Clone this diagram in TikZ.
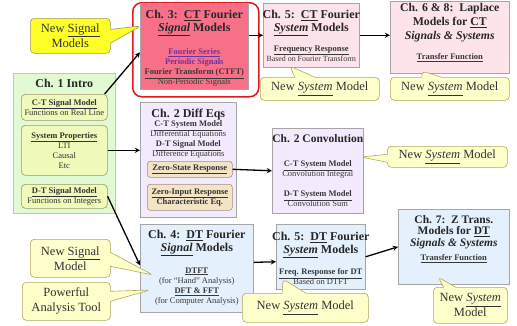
\documentclass[tikz,border=0pt]{standalone}
\usepackage{fontspec}
\setmainfont{Liberation Serif}
\usetikzlibrary{positioning, shapes.callouts}
\definecolor{ctred}{RGB}{248,112,136}
\definecolor{ringred}{RGB}{228,24,24}
\definecolor{ctpink}{RGB}{253,228,234}
\definecolor{introgreen}{RGB}{226,250,212}
\definecolor{propgreen}{RGB}{240,250,186}
\definecolor{diffviolet}{RGB}{243,234,253}
\definecolor{zerotan}{RGB}{242,228,196}
\definecolor{dtblue}{RGB}{228,240,252}
\definecolor{notepale}{RGB}{255,255,204}
\definecolor{noteyellow}{RGB}{255,255,40}
\definecolor{fspurple}{RGB}{112,48,160}
\tikzset{
    >=stealth,
    box/.style={anchor=north west, inner sep=0pt, line width=0.6pt, draw=black!35},
    ctbox/.style={box, fill=ctpink},
    dtbox/.style={box, fill=dtblue},
    diffbox/.style={box, fill=diffviolet},
    inbox/.style={box, rounded corners=4pt, fill=propgreen, draw=black!40!yellow!60!gray,
        align=center, font=\fontsize{8.5}{10}\selectfont, text=black!80},
    zerobox/.style={inbox, rounded corners=3pt, fill=zerotan, draw=black!45!brown!60},
    ttl/.style={font=\bfseries\fontsize{12}{13}\selectfont, align=center, inner sep=0pt, text=black!85},
    sub/.style={font=\fontsize{8.5}{10}\selectfont, align=center, inner sep=0pt, text=black!78},
    bubble/.style={rectangle callout, anchor=north west, rounded corners=4pt, fill=notepale,
        draw=black!30!yellow!70!gray, line width=0.6pt, align=center, inner sep=0pt,
        callout pointer width=14pt, font=\fontsize{12.5}{15}\selectfont, text=black!80},
    arr/.style={->, line width=1.3pt}
}

\begin{document}
\begin{tikzpicture}[x=1pt, y=-1pt]
    \useasboundingbox (0,0) rectangle (517,325);
    % chapter boxes
    \node[box, rounded corners=9pt, draw=ringred, line width=1.5pt,
        minimum width=126pt, minimum height=94pt] (ring) at (132,2) {};
    \node[box, fill=ctred, minimum width=108pt, minimum height=86pt] (ch3) at (140,3) {};
    \node[ctbox, minimum width=96pt, minimum height=64pt] (ch5c) at (263,3) {};
    \node[ctbox, minimum width=119pt, minimum height=72pt] (ch68) at (390,1) {};
    \node[box, fill=introgreen, draw=black!30!green!40, minimum width=102pt, minimum height=140pt] (ch1) at (13,73) {};
    \node[inbox, minimum width=86pt, minimum height=26pt] (ctsig) at (21,94)
        {\textbf{\underline{C-T Signal Model}}\\Functions on Real Line};
    \node[inbox, minimum width=86pt, minimum height=50pt] (props) at (21,125)
        {\textbf{\underline{System Properties}}\\LTI\\Causal\\Etc};
    \node[inbox, minimum width=86pt, minimum height=24pt] (dtsig) at (21,184)
        {\textbf{\underline{D-T Signal Model}}\\Functions on Integers};
    \node[diffbox, minimum width=96pt, minimum height=115pt] (ch2d) at (140,102) {};
    \node[zerobox, minimum width=85pt, minimum height=16pt] (zsr) at (147,161)
        {\textbf{\underline{Zero-State Response}}};
    \node[zerobox, minimum width=85pt, minimum height=26pt] (zir) at (147,184)
        {\textbf{\underline{Zero-Input Response}}\\\textbf{Characteristic Eq.}};
    \node[diffbox, minimum width=91pt, minimum height=85pt] (ch2c) at (272,128) {};
    \node[dtbox, minimum width=113pt, minimum height=88pt] (ch4) at (140,224) {};
    \node[dtbox, minimum width=89pt, minimum height=65pt] (ch5d) at (276,224) {};
    \node[dtbox, minimum width=111pt, minimum height=75pt] (ch7) at (398,209) {};

    % box texts
    \node[ttl, below=7pt of ch3.north] (ch3t) {Ch. 3:\ \ \underline{CT} Fourier\\\underline{\textit{Signal}} Models};
    \node[sub, below=45.5pt of ch3.north] (ch3s) {\textcolor{fspurple}{\textbf{\underline{Fourier Series}}}\\
        \textcolor{fspurple}{\textbf{Periodic Signals}}\\\textbf{\underline{Fourier Transform (CTFT)}}\\Non-Periodic Signals};
    \node[ttl, below=7pt of ch5c.north] (ch5ct) {Ch. 5:\ \ \underline{CT} Fourier\\\underline{\textit{System}} Models};
    \node[sub, below=42.5pt of ch5c.north] (ch5cs) {\textbf{\underline{Frequency Response}}\\
        {\fontsize{7.9}{10}\selectfont Based on Fourier Transform}};
    \node[ttl, below=2pt of ch68.north, font=\bfseries\fontsize{11.8}{14}\selectfont] (ch68t)
        {Ch. 6 \& 8:\ \ Laplace\\Models for \underline{CT}\\\textit{Signals \& Systems}};
    \node[sub, below=52.5pt of ch68.north] (ch68s) {\textbf{\underline{Transfer Function}}};
    \node[ttl, below=6pt of ch1.north] (ch1t) {Ch. 1 Intro};
    \node[ttl, below=7pt of ch2d.north] (ch2dt) {Ch. 2 Diff Eqs};
    \node[sub, below=18.5pt of ch2d.north] (ch2ds) {\textbf{\underline{C-T System Model}}\\Differential Equations\\
        \textbf{\underline{D-T Signal Model}}\\Difference Equations};
    \node[ttl, below=6pt of ch2c.north, font=\bfseries\fontsize{11.5}{13}\selectfont] (ch2ct) {Ch. 2 Convolution};
    \node[sub, below=32.5pt of ch2c.north] (ch2cs) {\textbf{\underline{C-T System Model}}\\Convolution Integral\\[10pt]
        \textbf{\underline{D-T System Model}}\\Convolution Sum};
    \node[ttl, below=6pt of ch4.north] (ch4t) {Ch. 4:\ \ \underline{DT} Fourier\\\underline{\textit{Signal}} Models};
    \node[sub, below=43.5pt of ch4.north] (ch4s) {\textbf{\underline{DTFT}}\\(for “Hand” Analysis)\\
        \textbf{\underline{DFT \& FFT}}\\(for Computer Analysis)};
    \node[ttl, below=8pt of ch5d.north] (ch5dt) {Ch. 5:\ \ \underline{DT} Fourier\\\underline{\textit{System}} Models};
    \node[sub, below=44.5pt of ch5d.north] (ch5ds) {\textbf{\underline{Freq. Response for DT}}\\Based on DTFT};
    \node[ttl, below=6pt of ch7.north, font=\bfseries\fontsize{11.5}{11.7}\selectfont] (ch7t)
        {Ch. 7:\ \ Z Trans.\\Models for \underline{DT}\\\textit{Signals \& Systems}};
    \node[sub, below=45.5pt of ch7.north] (ch7s) {\textbf{\underline{Transfer Function}}};

    % arrows
    \draw[arr] ([xshift=-3pt]ctsig.north east) -- ([yshift=-6pt]ch3.west);
    \draw[arr] (ch3.east |- ch5c.west) -- (ch5c.west);
    \draw[arr] (ch5c.east) -- (ch68.west |- ch5c.east);
    \draw[arr] (props.east) -- (ch2d.west |- props.east);
    \draw[arr] (zsr.east) -- (ch2c.west);
    \draw[arr] (dtsig.east) -- ([yshift=3pt]ch4.west);
    \draw[arr] ([yshift=6pt]ch4.east) -- ([yshift=-5pt]ch5d.west);
    \draw[arr] (ch5d.east) -- (ch7.west);

    % notes
    \coordinate (tp1) at (141,26);
    \coordinate (tp2) at (290,66);
    \coordinate (tp3) at (422,71);
    \coordinate (tp4) at (361,157);
    \coordinate (tp5) at (153,275);
    \coordinate (tp6) at (150,290);
    \coordinate (tp7) at (283,279);
    \coordinate (tp8) at (438,277);
    \node[bubble, fill=noteyellow, draw=black!40!yellow!60!gray, minimum width=80pt, minimum height=35pt,
        callout absolute pointer=(tp1)] (nsig) at (30,18) {New \underline{Signal}\\Models};
    \node[bubble, minimum width=119pt, minimum height=23pt, callout pointer width=20pt,
        callout absolute pointer=(tp2)] (nsys1) at (260,77) {New \underline{\textit{System}} Model};
    \node[bubble, minimum width=119pt, minimum height=23pt, callout pointer width=20pt,
        callout absolute pointer=(tp3)] (nsys2) at (390,77) {New \underline{\textit{System}} Model};
    \node[bubble, minimum width=120pt, minimum height=21pt, callout pointer width=8pt,
        callout absolute pointer=(tp4)] (nsys3) at (387,146) {New \underline{\textit{System}} Model};
    \node[bubble, minimum width=80pt, minimum height=38pt,
        callout absolute pointer=(tp5)] (nsig2) at (30,239) {New \underline{Signal}\\Model};
    \node[bubble, minimum width=88pt, minimum height=38pt, callout pointer width=10pt,
        callout absolute pointer=(tp6)] (tool) at (22,282) {Powerful\\Analysis Tool};
    \node[bubble, minimum width=126pt, minimum height=29pt, callout pointer width=24pt,
        callout absolute pointer=(tp7)] (nsys4) at (242,293) {New \underline{\textit{System}} Model};
    \node[bubble, minimum width=74pt, minimum height=36pt, callout pointer width=12pt,
        callout absolute pointer=(tp8)] (nsys5) at (433,287) {New \underline{\textit{System}}\\Model};
\end{tikzpicture}
\end{document}
